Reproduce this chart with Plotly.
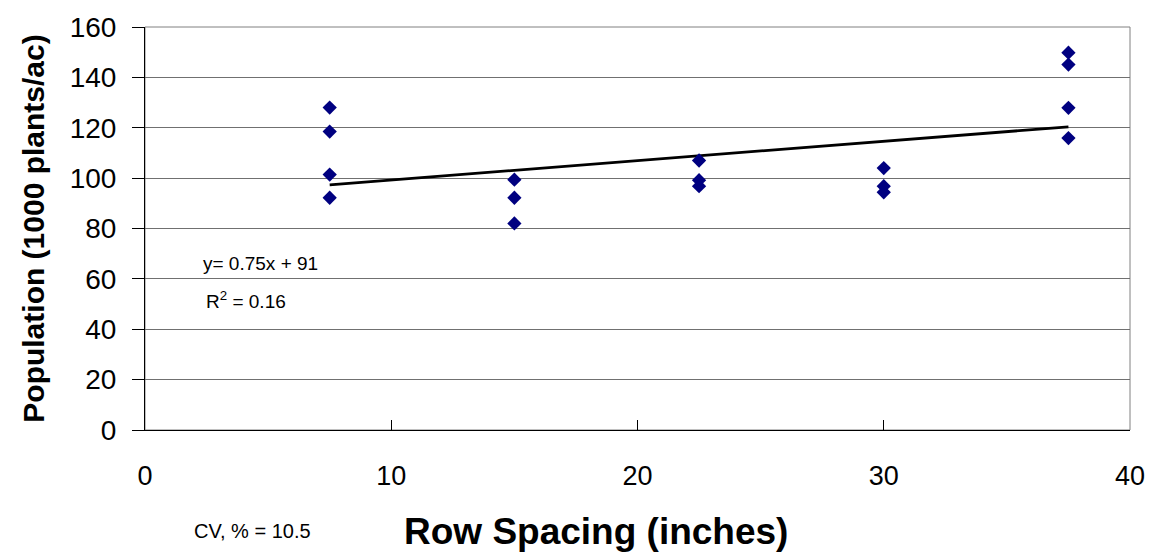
import numpy as np
import plotly.graph_objects as go

# Row spacing (inches) and population (1000 plants/ac)
row_spacing = [7.5, 7.5, 7.5, 7.5,
               15, 15, 15,
               22.5, 22.5, 22.5,
               30, 30, 30,
               37.5, 37.5, 37.5, 37.5]
population = [128.0, 118.5, 101.4, 92.2,
              99.4, 92.2, 82.0,
              107.0, 99.2, 96.8,
              104.0, 96.8, 94.4,
              149.8, 145.1, 127.9, 115.9]

x_ticks = [0, 10, 20, 30, 40]
y_ticks = [0, 20, 40, 60, 80, 100, 120, 140, 160]

eq_text = "y= 0.75x + 91"
r2_text = "R<sup>2</sup> = 0.16"
cv_text = "CV, % = 10.5"

# Linear trendline from data
slope, intercept = np.polyfit(row_spacing, population, 1)
tx = [min(row_spacing), max(row_spacing)]
ty = [slope * v + intercept for v in tx]

fig = go.Figure()
fig.add_trace(go.Scatter(x=tx, y=ty, mode="lines",
                         line=dict(color="black", width=2.8),
                         showlegend=False, hoverinfo="skip"))
fig.add_trace(go.Scatter(x=row_spacing, y=population, mode="markers",
                         marker=dict(symbol="diamond", size=11, color="#000080",
                                     line=dict(width=0)),
                         showlegend=False))

font_family = "Arial, Liberation Sans, sans-serif"

L, R, T, B = 145, 27, 25, 126
plot_w = 1157 - L - R
plot_h = 556 - T - B


def px_to_paper(px, py):
    return (px - L) / plot_w, (556 - B - py) / plot_h


cv_x, cv_y = px_to_paper(252, 532)
xt_x, xt_y = px_to_paper(596, 532)

fig.update_layout(
    width=1157, height=556,
    margin=dict(l=L, r=R, t=T, b=B),
    paper_bgcolor="white", plot_bgcolor="white",
    font=dict(family=font_family, color="black"),
    xaxis=dict(range=[0, 40], tickvals=x_ticks, ticks="inside", ticklen=10,
               tickcolor="black", showline=True, linecolor="black", linewidth=1,
               showgrid=False, zeroline=False,
               tickfont=dict(size=27, family=font_family), ticklabelstandoff=22),
    yaxis=dict(range=[0, 160], tickvals=y_ticks, ticks="outside", ticklen=12,
               tickcolor="black", showline=True, linecolor="black", linewidth=1,
               showgrid=True, gridcolor="#707070", gridwidth=1, zeroline=False,
               tickfont=dict(size=28, family=font_family), ticklabelstandoff=10,
               title=dict(text="<b>Population (1000 plants/ac)</b>",
                          font=dict(size=30, family=font_family), standoff=16)),
    shapes=[dict(type="rect", xref="paper", yref="paper", x0=0, x1=1, y0=0, y1=1,
                 line=dict(color="#808080", width=1), layer="below")],
    annotations=[
        dict(text=eq_text, x=4.7, y=66, xref="x", yref="y", showarrow=False,
             font=dict(size=19, family=font_family)),
        dict(text=r2_text, x=4.1, y=51.5, xref="x", yref="y", showarrow=False,
             font=dict(size=19, family=font_family)),
        dict(text=cv_text, x=cv_x, y=cv_y, xref="paper", yref="paper",
             xanchor="center", yanchor="middle", showarrow=False,
             font=dict(size=20, family=font_family)),
        dict(text="<b>Row Spacing (inches)</b>", x=xt_x, y=xt_y,
             xref="paper", yref="paper", xanchor="center", yanchor="middle",
             showarrow=False, font=dict(size=37, family=font_family)),
    ],
)

fig.write_html("out.html")
